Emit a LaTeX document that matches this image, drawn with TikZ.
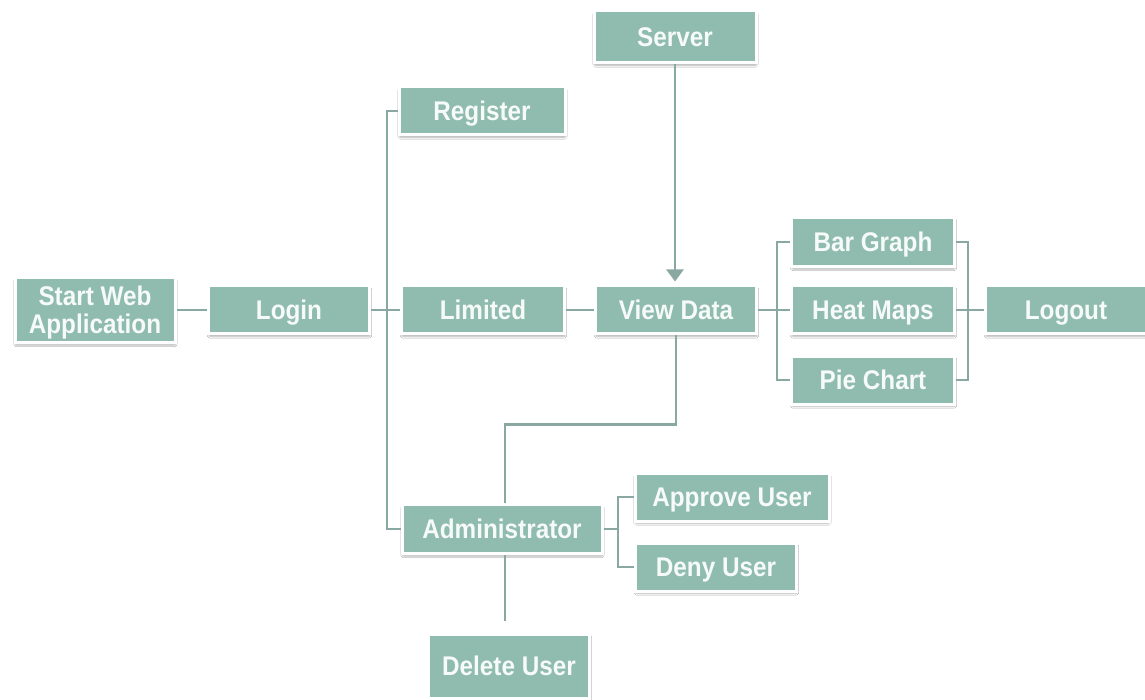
\documentclass[tikz,border=0pt]{standalone}
\usepackage{fontspec}
\newfontfamily\boxfont{Liberation Sans}[FakeStretch=0.9]
\usetikzlibrary{shadows.blur,arrows.meta}
\definecolor{boxfill}{RGB}{143,188,174}
\definecolor{linec}{RGB}{138,168,162}
\definecolor{txt}{RGB}{246,250,248}
\begin{document}
\begin{tikzpicture}[x=1pt,y=-1pt,
  box/.style={rectangle, fill=boxfill, draw=white, line width=3pt,
    inner sep=0pt, align=center, text=txt, text height=19.5pt, text depth=0pt,
    font=\boxfont\bfseries\fontsize{27}{29}\selectfont,
    blur shadow={shadow blur steps=6, shadow blur extra rounding=1pt, shadow xshift=0.5pt, shadow yshift=-2.5pt, shadow opacity=30}},
  conn/.style={draw=linec, line width=2.4pt},
  arr/.style={conn, -{Triangle[length=12pt,width=17pt]}}
]
\useasboundingbox (0,0) rectangle (1145,700);
\fill[white] (0,0) rectangle (1145,700);

\node[box, text height=47.5pt, minimum width=160pt, minimum height=65pt] (start) at (95,310) {Start Web\\[-1pt]Application};
\node[box, minimum width=161pt, minimum height=48pt] (login) at (289,310) {Login};
\node[box, minimum width=166pt, minimum height=48pt] (register) at (482,111) {Register};
\node[box, minimum width=163pt, minimum height=48pt] (limited) at (483,310) {Limited};
\node[box, minimum width=162pt, minimum height=52pt] (server) at (675,37) {Server};
\node[box, minimum width=161pt, minimum height=48pt] (view) at (676,310) {View Data};
\node[box, minimum width=163pt, minimum height=49pt] (bar) at (873,242) {Bar Graph};
\node[box, minimum width=163pt, minimum height=48pt] (heat) at (873,310) {Heat Maps};
\node[box, minimum width=163pt, minimum height=48pt] (pie) at (873,380) {Pie Chart};
\node[box, minimum width=161pt, minimum height=48pt] (logout) at (1066,310) {Logout};
\node[box, minimum width=200pt, minimum height=49pt] (admin) at (502,529) {Administrator};
\node[box, minimum width=194pt, minimum height=48pt] (approve) at (732,497) {Approve User};
\node[box, minimum width=161pt, minimum height=48pt] (deny) at (716,567) {Deny User};
\node[box, minimum width=161pt, minimum height=64pt] (delete) at (509,666) {Delete User};

\coordinate (bus) at (387,310);
\coordinate (vbL) at (777,310);
\coordinate (vbR) at (968,310);
\coordinate (abr) at (618,529);

\draw[conn] (start.east) -- (login.west);
\draw[conn] (login.east) -- (limited.west);
\draw[conn] (register.west) -- (register.west -| bus) -- (admin.west -| bus) -- (admin.west);
\draw[conn] (limited.east) -- (view.west);
\draw[arr, shorten >=3pt] (server.south) -- (server.south |- view.north);
\draw[conn] (view.south) -- ++(0,89) -| ([xshift=3pt]admin.north);
\draw[conn] (view.east) -- (heat.west);
\draw[conn] (bar.west) -- (bar.west -| vbL) -- (pie.west -| vbL) -- (pie.west);
\draw[conn] (bar.east) -- (bar.east -| vbR) -- (pie.east -| vbR) -- (pie.east);
\draw[conn] (heat.east) -- (logout.west);
\draw[conn] (admin.east) -- (abr);
\draw[conn] (approve.west) -- (approve.west -| abr) -- (deny.west -| abr) -- (deny.west);
\draw[conn, shorten >=12pt] ([xshift=3pt]admin.south) -- ([xshift=3pt]admin.south |- delete.north);
\end{tikzpicture}
\end{document}
